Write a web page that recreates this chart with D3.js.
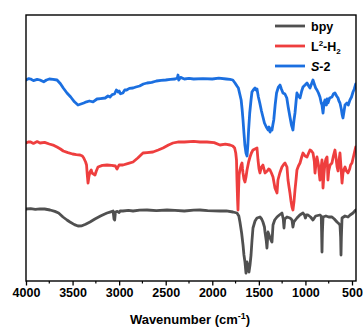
<!DOCTYPE html>
<html>
<head>
<meta charset="utf-8">
<script src="https://cdn.jsdelivr.net/npm/d3@7/dist/d3.min.js"></script>
<style>
  html, body { margin: 0; padding: 0; background: #fff; }
  svg { display: block; }
  text { font-family: "Liberation Sans", Arial, sans-serif; font-weight: bold; fill: #000; }
</style>
</head>
<body>
<svg id="chart" width="363" height="327"></svg>
<script>
// FTIR spectra, stacked (wavenumber in cm^-1, transmittance in a.u. with offsets)
const seriesNames = ["bpy", "L2-H2", "S-2"];
const seriesColors = ["#505050", "#ee3e3e", "#1b6fe0"];
const xTicks = [4000, 3500, 3000, 2500, 2000, 1500, 1000, 500];

const bpyData = [
  [4000, 36], [3950, 36.2], [3900, 35.8], [3850, 36.1], [3800, 36], [3742, 35.5],
  [3690, 34.8], [3650, 34], [3603, 32], [3560, 30.5], [3528, 29.5], [3480, 28.2],
  [3442, 27.5], [3400, 27.6], [3360, 28.4], [3313, 29.5], [3260, 31], [3200, 32.5],
  [3160, 33.4], [3130, 34], [3090, 34.6], [3065, 35], [3055, 31], [3048, 30.5],
  [3040, 34.5], [3020, 34.8], [3000, 34.2], [2990, 35], [2960, 35], [2900, 35.3],
  [2851, 35], [2780, 35.4], [2700, 35.5], [2600, 35.2], [2486, 35.5], [2400, 35.3],
  [2300, 35], [2200, 35.4], [2132, 35.5], [2050, 35.2], [1917, 35], [1850, 35.1],
  [1778, 34.5], [1735, 34], [1715, 32.5], [1703, 29.5], [1685, 24], [1670, 18],
  [1660, 13], [1649, 9.5], [1638, 4], [1627, 9.5], [1616, 7], [1606, 4.5],
  [1595, 8], [1584, 13], [1574, 20], [1563, 26.5], [1541, 30], [1520, 31.5],
  [1488, 32], [1470, 31], [1456, 29.5], [1440, 27], [1434, 24.5], [1420, 20],
  [1413, 16.5], [1405, 22], [1402, 24.5], [1390, 23], [1380, 21.5], [1370, 20.5],
  [1359, 19.5], [1348, 28], [1330, 30.5], [1305, 32], [1280, 33], [1252, 34],
  [1238, 31], [1230, 26.5], [1222, 31], [1198, 32], [1165, 31.5], [1144, 30.5],
  [1134, 27], [1124, 29.5], [1091, 31.5], [1060, 33], [1026, 34], [1010, 33],
  [1000, 31.5], [990, 33], [972, 33], [945, 32], [919, 30.5], [890, 32.5],
  [844, 33], [830, 32.5], [826, 24], [822, 14.5], [818, 24], [811, 32],
  [780, 32.5], [750, 32], [715, 32], [690, 31], [661, 29.5], [640, 28.6],
  [629, 28], [622, 22], [618, 13], [614, 22], [607, 31.5], [575, 32.5],
  [543, 32], [520, 33], [489, 34], [470, 35], [460, 35.5]
];

const l2h2Data = [
  [4000, 69], [3970, 69.6], [3950, 69.5], [3920, 68.8], [3880, 69.7], [3850, 69],
  [3800, 69.3], [3750, 68.5], [3700, 67.8], [3667, 67], [3630, 66], [3600, 65],
  [3550, 64.2], [3500, 63.5], [3460, 63.2], [3420, 63], [3395, 62.5], [3380, 61.5],
  [3360, 59.5], [3350, 58], [3342, 53], [3334, 49], [3325, 52], [3313, 54.5],
  [3300, 55.5], [3291, 54], [3275, 53.5], [3259, 53], [3245, 55], [3227, 57],
  [3180, 57.8], [3130, 58], [3080, 57.8], [3040, 57.5], [3030, 56.5], [3023, 56],
  [3010, 57.2], [3000, 58], [2959, 58], [2900, 58.8], [2851, 59.5], [2800, 61.5],
  [2744, 64], [2700, 64.2], [2637, 64.5], [2580, 65.5], [2529, 66.5], [2470, 68],
  [2422, 69], [2360, 69.6], [2300, 69.5], [2200, 69.8], [2132, 69.5], [2057, 69.5],
  [1980, 69.2], [1917, 68], [1860, 68.4], [1810, 68], [1780, 67.5], [1760, 66.5],
  [1748, 64], [1740, 60.5], [1735, 50.5], [1728, 40], [1724, 35.5], [1718, 45],
  [1712, 53], [1703, 55.5], [1690, 58], [1681, 59], [1675, 56], [1670, 54],
  [1660, 51], [1649, 49.5], [1638, 52], [1627, 55.5], [1610, 59.5], [1595, 62],
  [1580, 64], [1563, 65.5], [1541, 66], [1520, 66.5], [1509, 60.5], [1498, 56],
  [1488, 54], [1472, 57], [1456, 58], [1445, 56], [1434, 54], [1410, 55],
  [1395, 56], [1380, 55.5], [1365, 54], [1348, 52], [1327, 46.5], [1305, 44],
  [1295, 50.5], [1275, 54], [1252, 57], [1230, 58.5], [1219, 59], [1198, 57],
  [1187, 50.5], [1176, 47], [1166, 44], [1155, 40], [1144, 37], [1134, 35.5],
  [1122, 40], [1112, 45.5], [1100, 51], [1091, 55.5], [1075, 57.5], [1058, 59],
  [1040, 62], [1026, 64], [1004, 62.5], [983, 62], [965, 64], [951, 65.5],
  [935, 65], [919, 64], [905, 60], [897, 54], [888, 58], [876, 62], [860, 58],
  [850, 53], [844, 50.5], [833, 56], [822, 60.5], [816, 54], [811, 46.5],
  [800, 54], [790, 59], [780, 61], [768, 62], [763, 57], [758, 50.5], [750, 55],
  [735, 58], [715, 59], [700, 62.5], [683, 65.5], [670, 61], [660, 57], [650, 55],
  [640, 60], [629, 64], [618, 57], [607, 49], [597, 54], [585, 56], [575, 57],
  [560, 55], [543, 54], [525, 56], [515, 58], [500, 59], [480, 63], [460, 67]
];

const s2Data = [
  [4000, 100.5], [3970, 101.2], [3950, 101], [3920, 100.2], [3880, 100.8], [3850, 100.5],
  [3810, 99.6], [3780, 100.5], [3750, 101], [3710, 100.8], [3667, 100.5], [3630, 98.6],
  [3600, 96.5], [3560, 94], [3520, 92], [3480, 89.6], [3442, 88], [3410, 88.5],
  [3380, 89], [3350, 89.6], [3320, 90], [3280, 89.6], [3238, 91], [3200, 91.2],
  [3150, 91.5], [3120, 92.5], [3098, 92], [3075, 93.2], [3050, 93.5], [3030, 95.5],
  [3010, 94.5], [3000, 95], [2985, 93.6], [2960, 94], [2940, 95.5], [2920, 95.5],
  [2890, 96.3], [2851, 96.5], [2820, 97], [2780, 97.5], [2740, 98.5], [2700, 99],
  [2650, 99.3], [2600, 100], [2550, 100.3], [2500, 100.5], [2450, 100.8], [2400, 101],
  [2375, 101.5], [2368, 103], [2360, 100.5], [2340, 101.8], [2300, 101], [2250, 101.3],
  [2200, 101], [2100, 101.2], [2000, 101], [1930, 101.4], [1850, 101], [1810, 100.8],
  [1780, 100.5], [1756, 99], [1735, 97.5], [1720, 96.5], [1705, 93.5], [1690, 90.5],
  [1680, 86], [1670, 80.5], [1660, 74], [1650, 68], [1638, 64], [1627, 62.5],
  [1618, 68], [1610, 75.5], [1598, 84], [1584, 90.5], [1574, 94.5], [1560, 95.5],
  [1541, 96.5], [1530, 95.5], [1520, 96], [1505, 92], [1490, 89], [1472, 85],
  [1456, 82], [1440, 79], [1420, 77], [1400, 75.5], [1390, 77], [1380, 74.5],
  [1370, 76], [1359, 75.5], [1350, 78], [1340, 80.5], [1325, 88], [1310, 94],
  [1290, 97], [1273, 98], [1258, 96], [1241, 94], [1220, 93.5], [1200, 91.5],
  [1185, 87], [1166, 82], [1150, 78], [1140, 76.5], [1134, 75.5], [1124, 80],
  [1112, 84], [1100, 90], [1091, 94], [1075, 92.5], [1058, 91.5], [1040, 95],
  [1026, 97], [1004, 98], [983, 99], [965, 97.5], [951, 96.5], [935, 98.5],
  [919, 100.5], [905, 98.5], [890, 96.5], [876, 95.5], [860, 94], [844, 92],
  [830, 89], [822, 88], [811, 84], [800, 89], [790, 90.5], [775, 88], [768, 91],
  [758, 89], [740, 91.5], [715, 92], [700, 93.5], [683, 94], [665, 92.5],
  [650, 91.5], [640, 90], [629, 89], [615, 86], [605, 83], [597, 81.5],
  [585, 85], [575, 88], [554, 89], [540, 88], [522, 90.5], [505, 92],
  [489, 94.5], [475, 96], [460, 98.5]
];

const seriesData = [bpyData, l2h2Data, s2Data];

const svg = d3.select("#chart");
const margin = { left: 26, right: 7, top: 15, bottom: 46 };
const W = 363, H = 327;
const plotW = W - margin.left - margin.right;
const plotH = H - margin.top - margin.bottom;

const x = d3.scaleLinear().domain([4000, 457]).range([margin.left, margin.left + plotW]);
const y = d3.scaleLinear().domain([0, 133]).range([margin.top + plotH, margin.top]);

// clip the traces to the frame
svg.append("defs").append("clipPath").attr("id", "plot-clip")
  .append("rect")
  .attr("x", margin.left).attr("y", margin.top)
  .attr("width", plotW).attr("height", plotH);

const line = d3.line()
  .x(d => x(d[0]))
  .y(d => y(d[1]));

const traces = svg.append("g").attr("clip-path", "url(#plot-clip)");
seriesData.forEach((data, i) => {
  traces.append("path")
    .datum(data)
    .attr("fill", "none")
    .attr("stroke", seriesColors[i])
    .attr("stroke-width", 2.8)
    .attr("stroke-linejoin", "round")
    .attr("stroke-linecap", "round")
    .attr("d", line);
});

// frame
svg.append("rect")
  .attr("x", margin.left).attr("y", margin.top)
  .attr("width", plotW).attr("height", plotH)
  .attr("fill", "none")
  .attr("stroke", "#000")
  .attr("stroke-width", 1.4);

// bottom axis: major ticks every 500, minor ticks in between
const minorTicks = d3.range(3750, 457, -500);
const axisG = svg.append("g").attr("transform", `translate(0,${margin.top + plotH})`);
axisG.selectAll("line.minor").data(minorTicks).enter().append("line")
  .attr("class", "minor")
  .attr("x1", d => x(d)).attr("x2", d => x(d))
  .attr("y1", 0).attr("y2", 2.5)
  .attr("stroke", "#000").attr("stroke-width", 1.2);
const xAxis = d3.axisBottom(x)
  .tickValues(xTicks)
  .tickFormat(d3.format("d"))
  .tickSize(4.5)
  .tickSizeOuter(0)
  .tickPadding(3);
axisG.call(xAxis);
axisG.select(".domain").remove();
axisG.selectAll(".tick line").attr("stroke", "#000").attr("stroke-width", 1.3);
axisG.selectAll(".tick text")
  .attr("font-family", "'Liberation Sans', Arial, sans-serif")
  .attr("font-weight", "bold")
  .attr("font-size", 12.5)
  .attr("fill", "#000");

// axis title with superscript
const title = svg.append("text")
  .attr("x", margin.left + plotW / 2 - 1)
  .attr("y", 324)
  .attr("text-anchor", "middle")
  .attr("font-size", 13);
title.append("tspan").text("Wavenumber (cm");
title.append("tspan").attr("font-size", 9).attr("dy", -5).text("-1");
title.append("tspan").attr("dy", 5).text(")");

// legend
const legend = svg.append("g");
const legendRows = [26, 46, 66];
legendRows.forEach((ly, i) => {
  legend.append("line")
    .attr("x1", 275).attr("x2", 305)
    .attr("y1", ly).attr("y2", ly)
    .attr("stroke", seriesColors[i])
    .attr("stroke-width", 2.8);
});
const t0 = legend.append("text").attr("x", 311).attr("y", legendRows[0] + 4.5).attr("font-size", 12.5);
t0.text(seriesNames[0]);
const t1 = legend.append("text").attr("x", 311).attr("y", legendRows[1] + 4.5).attr("font-size", 12.5);
t1.append("tspan").text("L");
t1.append("tspan").attr("font-size", 8).attr("dy", -5).text("2");
t1.append("tspan").attr("dy", 5).text("-H");
t1.append("tspan").attr("font-size", 8).attr("dy", 3).text("2");
const t2 = legend.append("text").attr("x", 311).attr("y", legendRows[2] + 4.5).attr("font-size", 12.5);
t2.append("tspan").attr("font-style", "italic").text("S");
t2.append("tspan").text("-2");
</script>
</body>
</html>
